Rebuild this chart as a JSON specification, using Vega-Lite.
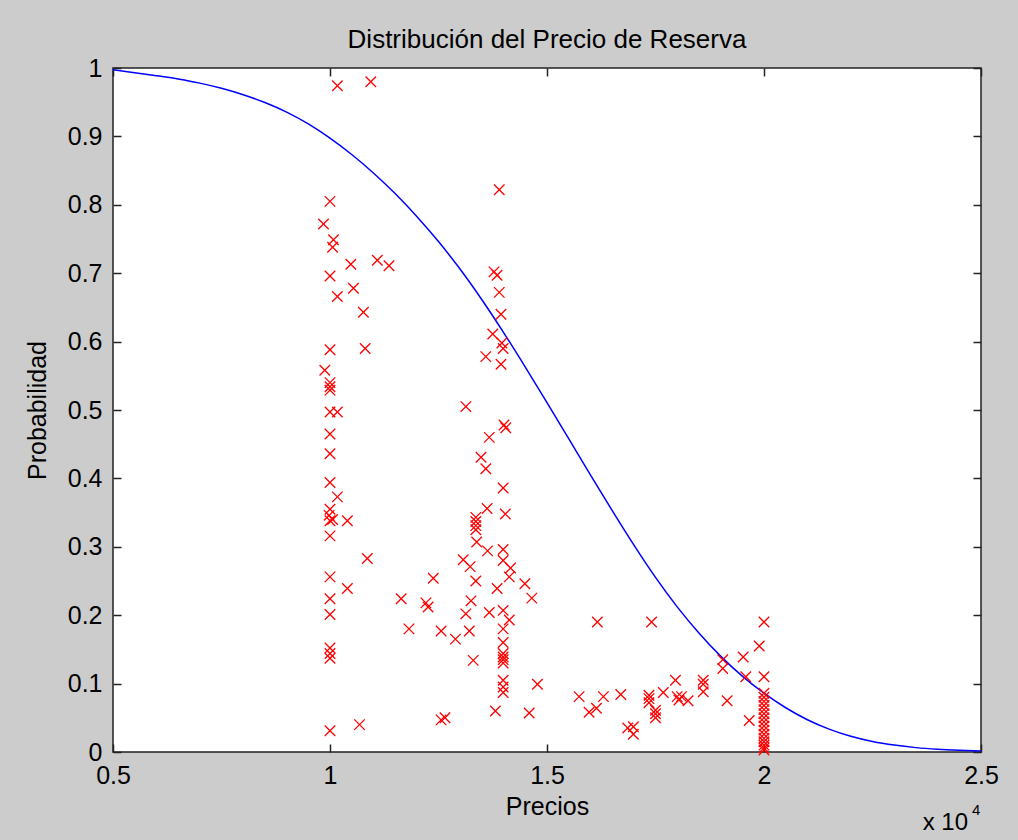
{
  "$schema": "https://vega.github.io/schema/vega-lite/v6.json",
  "width": 868,
  "height": 684,
  "autosize": {"type": "none"},
  "padding": {"left": 113, "top": 68, "right": 37, "bottom": 88},
  "background": "#cccccc",
  "title": {"text": "Distribución del Precio de Reserva", "font": "Liberation Sans", "fontSize": 26, "fontWeight": "normal", "color": "#000000", "anchor": "middle", "frame": "group", "baseline": "alphabetic", "offset": 20, "dy": 38},
  "config": {
    "view": {"fill": "white", "stroke": "#222222", "strokeWidth": 1.5},
    "axis": {"grid": false, "domain": false, "ticks": true, "tickSize": -8, "tickColor": "#222222", "tickWidth": 1.5, "labelFont": "Liberation Sans", "labelFontSize": 25, "labelColor": "#000000", "labelFlush": false, "labelOverlap": false, "titleFont": "Liberation Sans", "titleFontSize": 25, "titleFontWeight": "normal", "titleColor": "#000000"}
  },
  "datasets": {
    "curva": [
      {"precio": 5000, "prob": 0.9973}, {"precio": 5500, "prob": 0.9932}, {"precio": 6000, "prob": 0.9888}, {"precio": 6500, "prob": 0.9839},
      {"precio": 7000, "prob": 0.9779}, {"precio": 7500, "prob": 0.9703}, {"precio": 8000, "prob": 0.9609}, {"precio": 8500, "prob": 0.9495},
      {"precio": 9000, "prob": 0.9355}, {"precio": 9500, "prob": 0.9183}, {"precio": 10000, "prob": 0.8975}, {"precio": 10500, "prob": 0.8735},
      {"precio": 11000, "prob": 0.8465}, {"precio": 11500, "prob": 0.8164}, {"precio": 12000, "prob": 0.7830}, {"precio": 12500, "prob": 0.7462},
      {"precio": 13000, "prob": 0.7057}, {"precio": 13500, "prob": 0.6612}, {"precio": 14000, "prob": 0.6132}, {"precio": 14500, "prob": 0.5627},
      {"precio": 15000, "prob": 0.5107}, {"precio": 15500, "prob": 0.4580}, {"precio": 16000, "prob": 0.4052}, {"precio": 16500, "prob": 0.3532},
      {"precio": 17000, "prob": 0.3027}, {"precio": 17500, "prob": 0.2552}, {"precio": 18000, "prob": 0.2122}, {"precio": 18500, "prob": 0.1740},
      {"precio": 19000, "prob": 0.1402}, {"precio": 19500, "prob": 0.1110}, {"precio": 20000, "prob": 0.0860}, {"precio": 20500, "prob": 0.0647},
      {"precio": 21000, "prob": 0.0472}, {"precio": 21500, "prob": 0.0335}, {"precio": 22000, "prob": 0.0230}, {"precio": 22500, "prob": 0.0154},
      {"precio": 23000, "prob": 0.0101}, {"precio": 23500, "prob": 0.0064}, {"precio": 24000, "prob": 0.0040}, {"precio": 24500, "prob": 0.0025},
      {"precio": 25000, "prob": 0.0015}
    ],
    "pts": [
      {"precio": 10170, "prob": 0.974}, {"precio": 10940, "prob": 0.980}, {"precio": 10000, "prob": 0.805}, {"precio": 9850, "prob": 0.772},
      {"precio": 10080, "prob": 0.749}, {"precio": 10060, "prob": 0.738}, {"precio": 10480, "prob": 0.713}, {"precio": 11090, "prob": 0.719},
      {"precio": 11360, "prob": 0.711}, {"precio": 10000, "prob": 0.696}, {"precio": 10540, "prob": 0.678}, {"precio": 10170, "prob": 0.666},
      {"precio": 10770, "prob": 0.643}, {"precio": 10000, "prob": 0.588}, {"precio": 10810, "prob": 0.590}, {"precio": 9880, "prob": 0.558},
      {"precio": 10000, "prob": 0.540}, {"precio": 10000, "prob": 0.534}, {"precio": 10000, "prob": 0.529}, {"precio": 10000, "prob": 0.497},
      {"precio": 10170, "prob": 0.497}, {"precio": 10000, "prob": 0.465}, {"precio": 10000, "prob": 0.436}, {"precio": 10000, "prob": 0.394},
      {"precio": 10170, "prob": 0.373}, {"precio": 10000, "prob": 0.355}, {"precio": 9980, "prob": 0.346}, {"precio": 10060, "prob": 0.340},
      {"precio": 10000, "prob": 0.338}, {"precio": 10400, "prob": 0.338}, {"precio": 10000, "prob": 0.316}, {"precio": 10860, "prob": 0.283},
      {"precio": 10000, "prob": 0.256}, {"precio": 10400, "prob": 0.239}, {"precio": 10000, "prob": 0.224}, {"precio": 11640, "prob": 0.224},
      {"precio": 10000, "prob": 0.201}, {"precio": 11820, "prob": 0.180}, {"precio": 10000, "prob": 0.152}, {"precio": 10000, "prob": 0.144},
      {"precio": 10000, "prob": 0.137}, {"precio": 10680, "prob": 0.040}, {"precio": 10000, "prob": 0.031},
      {"precio": 13900, "prob": 0.822}, {"precio": 13780, "prob": 0.702}, {"precio": 13850, "prob": 0.697}, {"precio": 13900, "prob": 0.672},
      {"precio": 13940, "prob": 0.640}, {"precio": 13750, "prob": 0.611}, {"precio": 13960, "prob": 0.598}, {"precio": 13990, "prob": 0.590},
      {"precio": 13590, "prob": 0.578}, {"precio": 13940, "prob": 0.567}, {"precio": 13130, "prob": 0.505}, {"precio": 14010, "prob": 0.478},
      {"precio": 14050, "prob": 0.474}, {"precio": 13670, "prob": 0.460}, {"precio": 13480, "prob": 0.431}, {"precio": 13590, "prob": 0.414},
      {"precio": 13990, "prob": 0.386}, {"precio": 13620, "prob": 0.356}, {"precio": 14040, "prob": 0.348}, {"precio": 13360, "prob": 0.343},
      {"precio": 13360, "prob": 0.337}, {"precio": 13360, "prob": 0.331}, {"precio": 13360, "prob": 0.325}, {"precio": 13380, "prob": 0.307},
      {"precio": 13630, "prob": 0.294}, {"precio": 13990, "prob": 0.296}, {"precio": 13070, "prob": 0.281}, {"precio": 13230, "prob": 0.271},
      {"precio": 13990, "prob": 0.280}, {"precio": 14160, "prob": 0.269}, {"precio": 14130, "prob": 0.256}, {"precio": 12380, "prob": 0.254},
      {"precio": 13360, "prob": 0.250}, {"precio": 14490, "prob": 0.246}, {"precio": 13850, "prob": 0.239}, {"precio": 14650, "prob": 0.225},
      {"precio": 13250, "prob": 0.221}, {"precio": 12210, "prob": 0.218}, {"precio": 12260, "prob": 0.212}, {"precio": 13130, "prob": 0.202},
      {"precio": 13670, "prob": 0.204}, {"precio": 13990, "prob": 0.207}, {"precio": 14130, "prob": 0.193}, {"precio": 13990, "prob": 0.180},
      {"precio": 12560, "prob": 0.177}, {"precio": 13210, "prob": 0.177}, {"precio": 12890, "prob": 0.165}, {"precio": 13990, "prob": 0.160},
      {"precio": 13990, "prob": 0.144}, {"precio": 13990, "prob": 0.139}, {"precio": 13990, "prob": 0.135}, {"precio": 13990, "prob": 0.130},
      {"precio": 13300, "prob": 0.134}, {"precio": 13990, "prob": 0.105}, {"precio": 13990, "prob": 0.095}, {"precio": 13990, "prob": 0.087},
      {"precio": 14780, "prob": 0.099}, {"precio": 13810, "prob": 0.060}, {"precio": 14590, "prob": 0.057}, {"precio": 12560, "prob": 0.047},
      {"precio": 12650, "prob": 0.050},
      {"precio": 16160, "prob": 0.190}, {"precio": 17410, "prob": 0.190}, {"precio": 15740, "prob": 0.081}, {"precio": 16300, "prob": 0.081},
      {"precio": 16700, "prob": 0.084}, {"precio": 15970, "prob": 0.058}, {"precio": 16140, "prob": 0.064}, {"precio": 16860, "prob": 0.035},
      {"precio": 16990, "prob": 0.037}, {"precio": 16990, "prob": 0.026}, {"precio": 17350, "prob": 0.083}, {"precio": 17350, "prob": 0.078},
      {"precio": 17350, "prob": 0.072}, {"precio": 17500, "prob": 0.061}, {"precio": 17500, "prob": 0.056}, {"precio": 17500, "prob": 0.050},
      {"precio": 17680, "prob": 0.087}, {"precio": 17960, "prob": 0.105}, {"precio": 18000, "prob": 0.081}, {"precio": 18100, "prob": 0.081},
      {"precio": 18040, "prob": 0.076}, {"precio": 18250, "prob": 0.075}, {"precio": 18600, "prob": 0.105}, {"precio": 18600, "prob": 0.099},
      {"precio": 18600, "prob": 0.088}, {"precio": 19050, "prob": 0.135}, {"precio": 19050, "prob": 0.122}, {"precio": 19150, "prob": 0.075},
      {"precio": 20000, "prob": 0.190}, {"precio": 19890, "prob": 0.155}, {"precio": 19520, "prob": 0.139}, {"precio": 19580, "prob": 0.110},
      {"precio": 20000, "prob": 0.110}, {"precio": 19660, "prob": 0.046}, {"precio": 20000, "prob": 0.086}, {"precio": 20000, "prob": 0.080},
      {"precio": 20000, "prob": 0.074}, {"precio": 20000, "prob": 0.068}, {"precio": 20000, "prob": 0.062}, {"precio": 20000, "prob": 0.056},
      {"precio": 20000, "prob": 0.050}, {"precio": 20000, "prob": 0.044}, {"precio": 20000, "prob": 0.038}, {"precio": 20000, "prob": 0.032},
      {"precio": 20000, "prob": 0.026}, {"precio": 20000, "prob": 0.020}, {"precio": 20000, "prob": 0.015}, {"precio": 20000, "prob": 0.010},
      {"precio": 20000, "prob": 0.006}, {"precio": 20000, "prob": 0.003}
    ],
    "nota": [{"id": 1}]
  },
  "layer": [
    {
      "data": {"name": "curva"},
      "mark": {"type": "line", "color": "#0000ff", "strokeWidth": 1.5, "interpolate": "monotone", "clip": true},
      "encoding": {
        "x": {"field": "precio", "type": "quantitative", "scale": {"domain": [5000, 25000], "nice": false, "zero": false},
          "axis": {"orient": "bottom", "values": [5000, 10000, 15000, 20000, 25000], "labelExpr": "'' + datum.value / 10000", "labelPadding": 19,
            "title": "Precios", "titleX": 434, "titleY": 54, "titleBaseline": "middle", "titleAlign": "center", "titleAngle": 0}},
        "y": {"field": "prob", "type": "quantitative", "scale": {"domain": [0, 1], "nice": false, "zero": false},
          "axis": {"orient": "left", "values": [0, 0.1, 0.2, 0.3, 0.4, 0.5, 0.6, 0.7, 0.8, 0.9, 1], "labelExpr": "'' + datum.value", "labelPadding": 19,
            "title": "Probabilidad", "titleX": -76, "titleY": 342, "titleAngle": -90, "titleBaseline": "middle", "titleAlign": "center"}}
      }
    },
    {
      "data": {"name": "pts"},
      "mark": {"type": "point", "shape": "M-1,-1L1,1M-1,1L1,-1", "filled": false, "stroke": "#ff0000", "strokeWidth": 1.3, "size": 110, "opacity": 1},
      "encoding": {
        "x": {"field": "precio", "type": "quantitative", "axis": null},
        "y": {"field": "prob", "type": "quantitative", "axis": null}
      }
    },
    {
      "data": {"name": "curva"},
      "mark": {"type": "point", "opacity": 0},
      "encoding": {
        "x": {"field": "precio", "type": "quantitative", "axis": {"orient": "top", "values": [5000, 10000, 15000, 20000, 25000], "labels": false, "title": null}},
        "y": {"field": "prob", "type": "quantitative", "axis": {"orient": "right", "values": [0, 0.1, 0.2, 0.3, 0.4, 0.5, 0.6, 0.7, 0.8, 0.9, 1], "labels": false, "title": null}}
      }
    },
    {
      "data": {"name": "nota"},
      "mark": {"type": "text", "text": "x 10", "align": "right", "baseline": "alphabetic", "dx": -13, "dy": 78, "font": "Liberation Sans", "fontSize": 24, "color": "#000000"},
      "encoding": {
        "x": {"datum": 25000, "type": "quantitative", "axis": null},
        "y": {"datum": 0, "type": "quantitative", "axis": null}
      }
    },
    {
      "data": {"name": "nota"},
      "mark": {"type": "text", "text": "4", "align": "left", "baseline": "alphabetic", "dx": -9, "dy": 63, "font": "Liberation Sans", "fontSize": 15, "color": "#000000"},
      "encoding": {
        "x": {"datum": 25000, "type": "quantitative", "axis": null},
        "y": {"datum": 0, "type": "quantitative", "axis": null}
      }
    }
  ],
  "resolve": {"axis": {"x": "independent", "y": "independent"}}
}
